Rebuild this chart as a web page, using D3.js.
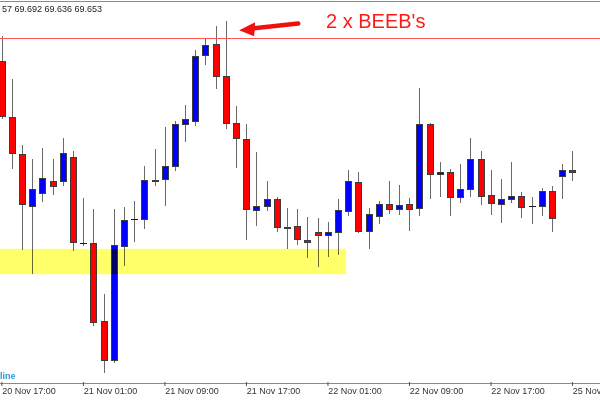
<!DOCTYPE html>
<html>
<head>
<meta charset="utf-8">
<script src="https://cdn.jsdelivr.net/npm/d3@7"></script>
<style>
  body { margin: 0; background: #fff; }
  text { font-family: "Liberation Sans", Arial, sans-serif; }
</style>
</head>
<body>
<div id="container"></div>
<script>
// width and height
var width = 600;
var height = 400;

// hourly candles, 20 Nov 17:00 -> 25 Nov 01:00 (weekend skipped)
var opens  = [69.854, 69.753, 69.686, 69.591, 69.615, 69.637, 69.637, 69.680, 69.525, 69.525,
              69.383, 69.313, 69.519, 69.568, 69.568, 69.637, 69.640, 69.664, 69.740, 69.745,
              69.865, 69.885, 69.827, 69.742, 69.713, 69.584, 69.591, 69.604, 69.552, 69.555,
              69.530, 69.544, 69.539, 69.544, 69.582, 69.635, 69.546, 69.573, 69.595, 69.586,
              69.595, 69.588, 69.740, 69.649, 69.653, 69.608, 69.622, 69.677, 69.611, 69.595,
              69.604, 69.610, 69.591, 69.591, 69.619, 69.646, 69.657];
var highs  = [69.899, 69.821, 69.702, 69.677, 69.696, 69.677, 69.715, 69.691, 69.606, 69.586,
              69.432, 69.586, 69.590, 69.601, 69.664, 69.695, 69.734, 69.745, 69.774, 69.874,
              69.896, 69.917, 69.926, 69.772, 69.740, 69.689, 69.637, 69.608, 69.588, 69.586,
              69.572, 69.570, 69.563, 69.604, 69.657, 69.653, 69.588, 69.601, 69.637, 69.629,
              69.606, 69.805, 69.742, 69.671, 69.658, 69.667, 69.715, 69.691, 69.657, 69.640,
              69.671, 69.617, 69.608, 69.624, 69.628, 69.667, 69.692];
var lows   = [69.749, 69.658, 69.512, 69.468, 69.599, 69.611, 69.628, 69.510, 69.519, 69.374,
              69.289, 69.307, 69.483, 69.526, 69.550, 69.628, 69.591, 69.655, 69.707, 69.736,
              69.847, 69.803, 69.731, 69.660, 69.530, 69.555, 69.582, 69.544, 69.514, 69.521,
              69.497, 69.481, 69.499, 69.503, 69.573, 69.543, 69.514, 69.559, 69.577, 69.575,
              69.546, 69.573, 69.604, 69.608, 69.573, 69.597, 69.608, 69.593, 69.575, 69.561,
              69.597, 69.570, 69.559, 69.573, 69.544, 69.604, 69.636];
var closes = [69.754, 69.687, 69.595, 69.622, 69.642, 69.628, 69.687, 69.526, 69.525, 69.382,
              69.313, 69.521, 69.566, 69.568, 69.639, 69.639, 69.664, 69.740, 69.749, 69.863,
              69.883, 69.827, 69.742, 69.715, 69.586, 69.591, 69.604, 69.553, 69.553, 69.532,
              69.526, 69.539, 69.544, 69.584, 69.637, 69.546, 69.577, 69.595, 69.586, 69.593,
              69.586, 69.740, 69.649, 69.653, 69.608, 69.622, 69.677, 69.610, 69.597, 69.604,
              69.610, 69.590, 69.591, 69.619, 69.570, 69.657, 69.653];

// time axis labels (one every 8 bars)
var tickIndex  = [0, 8, 16, 24, 32, 40, 48, 56];
var tickLabels = ["20 Nov 17:00", "21 Nov 01:00", "21 Nov 09:00", "21 Nov 17:00",
                  "22 Nov 01:00", "22 Nov 09:00", "22 Nov 17:00", "25 Nov 01:00"];

// drawn objects
var resistance = 69.896;
var zone = [69.468, 69.514];
var zoneEnd = 33.8;  // bar index where the yellow box stops

var svg = d3.select("#container")
            .append("svg")
            .attr("width", width)
            .attr("height", height);

svg.append("rect")
   .attr("width", width)
   .attr("height", height)
   .attr("fill", "#fff");

var axisY = 383;

// scales
var x = d3.scaleLinear()
          .domain([0, opens.length - 1])
          .range([1.7, 572.3]);
var y = d3.scaleLinear()
          .domain([69.271, 69.961])
          .range([axisY, 2]);

// frame
svg.append("line")
   .attr("x1", 0).attr("x2", width)
   .attr("y1", 1.5).attr("y2", 1.5)
   .attr("stroke", "#8a8a8a");

svg.append("line")
   .attr("x1", 0).attr("x2", width)
   .attr("y1", axisY + 0.5).attr("y2", axisY + 0.5)
   .attr("stroke", "#8a8a8a");

// x axis
var xAxis = svg.append("g")
   .attr("transform", "translate(0," + (axisY - 1) + ")")
   .call(d3.axisBottom(x)
           .tickValues(tickIndex)
           .tickSize(4)
           .tickFormat(function(d, i) { return tickLabels[i]; }));
xAxis.select(".domain").remove();
xAxis.selectAll(".tick line").attr("stroke", "#555")
     .attr("transform", "translate(-0.3,0)");
xAxis.selectAll(".tick text")
     .attr("text-anchor", "start")
     .attr("x", 0)
     .attr("y", 6)
     .attr("dy", "0.71em")
     .attr("fill", "#333")
     .style("font-size", "9px")
     .style("font-family", "'Liberation Sans', Arial, sans-serif");

// candles
var idx = d3.range(opens.length);
var g = svg.append("g");

g.selectAll(".wick")
 .data(idx)
 .enter().append("line")
 .attr("class", "wick")
 .attr("x1", function(i) { return Math.round(x(i)) + 0.5; })
 .attr("x2", function(i) { return Math.round(x(i)) + 0.5; })
 .attr("y1", function(i) { return Math.round(y(highs[i])); })
 .attr("y2", function(i) { return Math.round(y(lows[i])); })
 .attr("stroke", "#6a6a6a");

g.selectAll(".body")
 .data(idx.filter(function(i) { return opens[i] != closes[i]; }))
 .enter().append("rect")
 .attr("class", "body")
 .attr("x", function(i) { return Math.round(x(i)) - 2.5; })
 .attr("width", 6)
 .attr("y", function(i) { return Math.round(y(Math.max(opens[i], closes[i]))) + 0.5; })
 .attr("height", function(i) {
    return Math.max(1, Math.round(y(Math.min(opens[i], closes[i]))) - Math.round(y(Math.max(opens[i], closes[i]))));
 })
 .attr("fill", function(i) { return closes[i] > opens[i] ? "#0000ff" : "#ff0000"; })
 .attr("stroke", "#3c3c3c");

g.selectAll(".doji")
 .data(idx.filter(function(i) { return opens[i] == closes[i]; }))
 .enter().append("line")
 .attr("class", "doji")
 .attr("x1", function(i) { return Math.round(x(i)) - 3; })
 .attr("x2", function(i) { return Math.round(x(i)) + 4; })
 .attr("y1", function(i) { return Math.round(y(opens[i])) + 0.5; })
 .attr("y2", function(i) { return Math.round(y(opens[i])) + 0.5; })
 .attr("stroke", "#1a1a1a");

// yellow support box (drawn on top, multiplied like the terminal does)
svg.append("rect")
   .attr("x", 0)
   .attr("y", y(zone[1]))
   .attr("width", x(zoneEnd))
   .attr("height", y(zone[0]) - y(zone[1]))
   .attr("fill", "#ffff6a")
   .style("mix-blend-mode", "multiply");

// resistance line
svg.append("line")
   .attr("x1", 0).attr("x2", width)
   .attr("y1", Math.round(y(resistance)) + 0.5)
   .attr("y2", Math.round(y(resistance)) + 0.5)
   .attr("stroke", "#ff5555");

// arrow pointing at the two bars
var tip = [x(23.3), y(69.910)];
var tail = [x(29.1), y(69.922)];
svg.append("line")
   .attr("x1", tail[0]).attr("y1", tail[1])
   .attr("x2", tip[0] + 12).attr("y2", tip[1] - 1.5)
   .attr("stroke", "#f01010")
   .attr("stroke-width", 4.5)
   .attr("stroke-linecap", "round");
svg.append("path")
   .attr("d", "M" + tip[0] + "," + tip[1] +
              "L" + (tip[0] + 16) + "," + (tip[1] - 8) +
              "L" + (tip[0] + 15) + "," + (tip[1] + 6) + "Z")
   .attr("fill", "#f01010");

svg.append("text")
   .attr("x", 326)
   .attr("y", 28)
   .attr("fill", "#ff1a1a")
   .style("font-size", "20px")
   .text("2 x BEEB's");

// OHLC readout (cut off on the left)
svg.append("text")
   .attr("x", 2)
   .attr("y", 12)
   .attr("fill", "#222")
   .style("font-size", "9px")
   .text("57 69.692 69.636 69.653");

// object label at bottom left
svg.append("text")
   .attr("x", 0)
   .attr("y", 379)
   .attr("fill", "#2a9ad6")
   .style("font-size", "9px")
   .style("font-weight", "bold")
   .text("line");
</script>
</body>
</html>
